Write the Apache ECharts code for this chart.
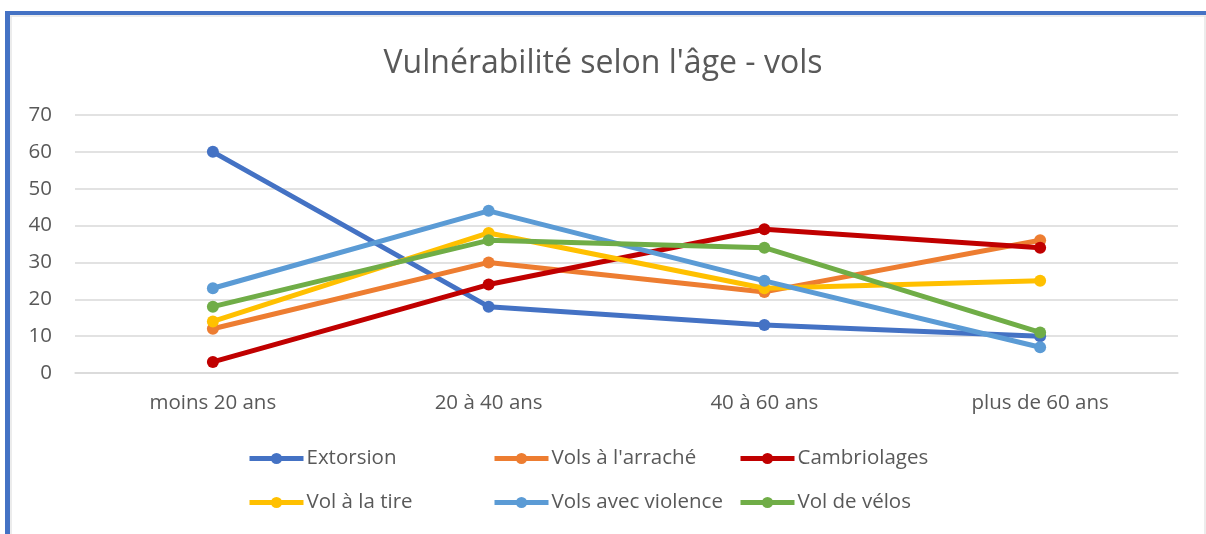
<!DOCTYPE html>
<html><head><meta charset="utf-8">
<script src="https://cdn.jsdelivr.net/npm/echarts@6/dist/echarts.min.js"></script>
<style>html,body{margin:0;padding:0;background:#fff}#c{width:1206px;height:534px}</style>
</head><body><div id="c"></div>
<script>
const categories = ['moins 20 ans', '20 à 40 ans', '40 à 60 ans', 'plus de 60 ans'];
const extorsion = [60, 18, 13, 10];
const volsArrache = [12, 30, 22, 36];
const cambriolages = [3, 24, 39, 34];
const volTire = [14, 38, 23, 25];
const volsViolence = [23, 44, 25, 7];
const volVelos = [18, 36, 34, 11];
const seriesNames = ['Extorsion', "Vols à l'arraché", 'Cambriolages', 'Vol à la tire', 'Vols avec violence', 'Vol de vélos'];
const seriesData = [extorsion, volsArrache, cambriolages, volTire, volsViolence, volVelos];
const colors = ['#4472C4', '#ED7D31', '#C00000', '#FFC000', '#5B9BD5', '#70AD47'];
const yTicks = [0, 10, 20, 30, 40, 50, 60, 70];

const FONT = 'Open Sans';
const legendPos = [[247, 448], [492, 448], [738, 448], [247, 492], [492, 492], [738, 492]];
const chart = echarts.init(document.getElementById('c'));
chart.setOption({
  animation: false,
  color: colors,
  title: {
    text: 'Vulnérabilité selon l\'âge - vols',
    left: 'center', top: 43,
    textStyle: { fontFamily: FONT, fontWeight: 'normal', fontSize: 32, color: '#595959' }
  },
  legend: seriesNames.map((n, i) => ({
    data: [n], left: legendPos[i][0], top: legendPos[i][1], padding: 0,
    itemWidth: 54, itemHeight: 14, itemGap: 4,
    lineStyle: { width: 5 },
    textStyle: { fontFamily: FONT, fontSize: 20.5, color: '#595959', padding: [0, 0, 0, -2] }
  })),
  grid: { left: 75, right: 28, top: 115, bottom: 161, containLabel: false },
  xAxis: {
    type: 'category', data: categories, boundaryGap: true,
    axisLine: { lineStyle: { color: '#d9d9d9', width: 1.5 } },
    axisTick: { show: false },
    axisLabel: { fontFamily: FONT, fontSize: 20.5, color: '#595959', margin: 20 }
  },
  yAxis: {
    type: 'value', min: yTicks[0], max: yTicks[yTicks.length - 1], interval: 10,
    axisLine: { show: false }, axisTick: { show: false },
    splitLine: { lineStyle: { color: '#d9d9d9', width: 1.5 } },
    axisLabel: { fontFamily: FONT, fontSize: 20.5, color: '#595959', margin: 23 }
  },
  series: seriesNames.map((n, i) => ({
    name: n, type: 'line', data: seriesData[i],
    symbol: 'circle', symbolSize: 12,
    lineStyle: { width: 5, color: colors[i] },
    itemStyle: { color: colors[i] }
  })),
  graphic: [
    { type: 'line', shape: { x1: 5, y1: 13, x2: 1206, y2: 13 }, style: { stroke: '#4472C4', lineWidth: 4 } },
    { type: 'line', shape: { x1: 5, y1: 16, x2: 1206, y2: 16 }, style: { stroke: '#e6e6e6', lineWidth: 1.5 } },
    { type: 'line', shape: { x1: 7.5, y1: 11, x2: 7.5, y2: 534 }, style: { stroke: '#4472C4', lineWidth: 5 } },
    { type: 'line', shape: { x1: 11, y1: 16, x2: 11, y2: 534 }, style: { stroke: '#e6e6e6', lineWidth: 1.5 } },
    { type: 'line', shape: { x1: 1205, y1: 16, x2: 1205, y2: 534 }, style: { stroke: '#e6e6e6', lineWidth: 1.5 } }
  ]
});
</script></body></html>
